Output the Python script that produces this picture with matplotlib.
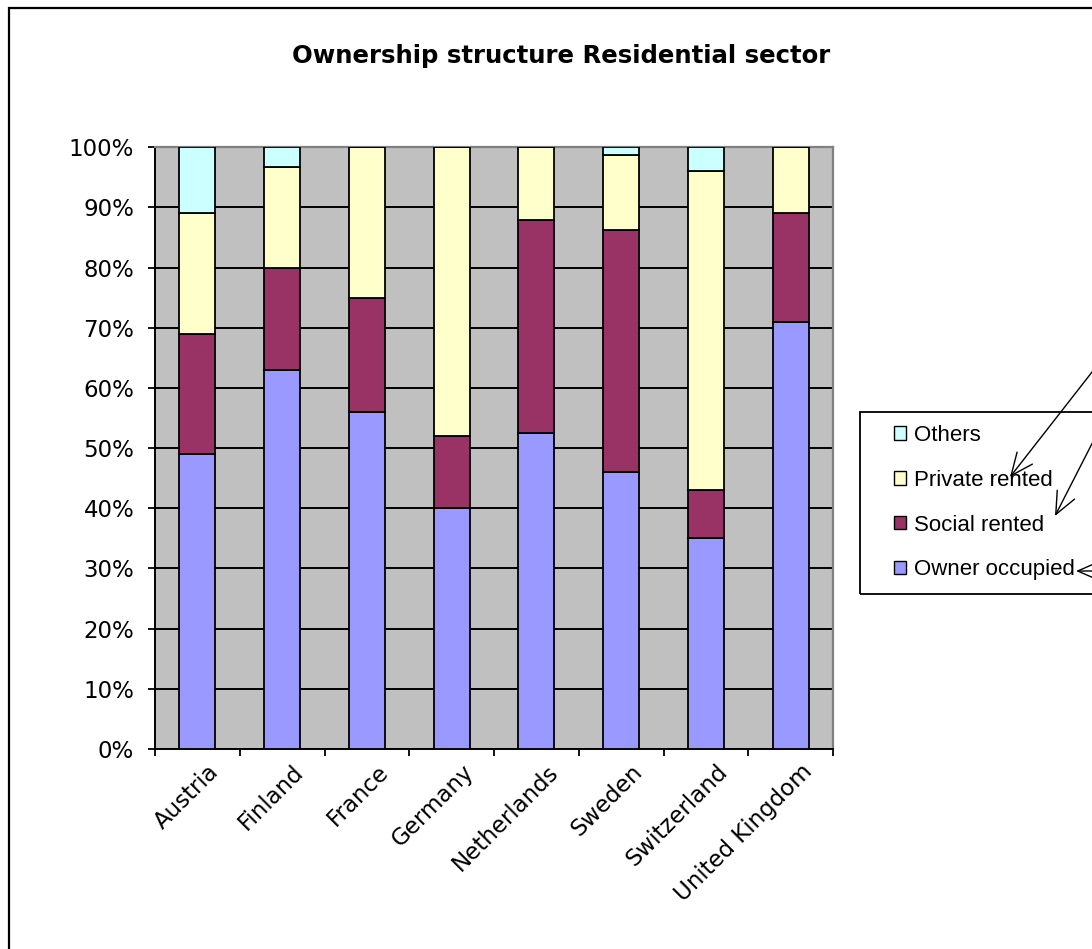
import matplotlib
matplotlib.use("Agg")
import matplotlib.pyplot as plt
from matplotlib.patches import Rectangle, Patch, FancyArrowPatch
from matplotlib.ticker import FuncFormatter
import numpy as np

countries = ["Austria", "Finland", "France", "Germany", "Netherlands",
             "Sweden", "Switzerland", "United Kingdom"]
owner_occupied = [49, 63, 56, 40, 52.5, 46, 35, 71]
social_rented = [20, 17, 19, 12, 35.5, 40.3, 8, 18]
private_rented = [20, 16.7, 25, 48, 12, 12.4, 53, 11]
others = [11, 3.3, 0, 0, 0, 1.3, 4, 0]
series_names = ["Owner occupied", "Social rented", "Private rented", "Others"]
series_colors = ["#9999FF", "#993366", "#FFFFCC", "#CCFFFF"]
title = "Ownership structure Residential sector"

W, H = 1092, 949
fig = plt.figure(figsize=(W / 100, H / 100), dpi=100)
fig.patch.set_facecolor("white")


def fx(x):
    return x / W


def fy(y):
    return 1 - y / H


ax_l, ax_r, ax_t, ax_b = 155, 833, 147.3, 749
ax = fig.add_axes([fx(ax_l), fy(ax_b), (ax_r - ax_l) / W, (ax_b - ax_t) / H])
ax.set_facecolor("#C0C0C0")

x = np.arange(len(countries))
bottom = np.zeros(len(countries))
series = [owner_occupied, social_rented, private_rented, others]
for vals, name, col in zip(series, series_names, series_colors):
    v = np.array(vals, dtype=float)
    ax.bar(x, v, 0.425, bottom=bottom, color=col, edgecolor="black",
           linewidth=1.3, zorder=3, label=name)
    bottom += v

ax.set_xlim(-0.5, len(countries) - 0.5)
ax.set_ylim(0, 100)
ax.set_yticks(np.arange(0, 101, 10))
ax.yaxis.set_major_formatter(FuncFormatter(lambda v, p: f"{v:.0f}%"))
ax.grid(axis="y", color="black", linewidth=1.4, zorder=1)
ax.set_axisbelow(True)

ax.set_xticks(np.arange(-0.5, len(countries), 1.0))
ax.set_xticklabels([])
ax.set_xticks(x + 0.12, minor=True)
ax.set_xticklabels(countries, minor=True, rotation=45, ha="right", va="top",
                   rotation_mode="anchor", fontsize=16.5, family="DejaVu Sans")
ax.tick_params(axis="x", which="minor", length=0, pad=8)
ax.tick_params(axis="x", which="major", direction="out", length=5, width=1.3, color="black")
ax.tick_params(axis="y", direction="out", length=5, width=1.3, color="black",
               labelsize=16.5, pad=10)
for lab in ax.get_yticklabels():
    lab.set_family("DejaVu Sans")

for s in ["left", "bottom"]:
    ax.spines[s].set_color("black")
    ax.spines[s].set_linewidth(1.4)
for s in ["top", "right"]:
    ax.spines[s].set_color("#808080")
    ax.spines[s].set_linewidth(1.6)

fig.text(fx(561), fy(56), title, ha="center", va="center", fontsize=17.6,
         fontweight="bold", family="DejaVu Sans")

# outer chart border
fig.patches.append(Rectangle((fx(9), fy(960)), 1.2, fy(8) - fy(960), transform=fig.transFigure,
                             fill=False, edgecolor="black", linewidth=1.6, clip_on=False))

# legend frame
fig.patches.append(Rectangle((fx(860), fy(594)), fx(1100) - fx(860), fy(412) - fy(594),
                             transform=fig.transFigure, fill=False, edgecolor="black",
                             linewidth=1.3))
handles = [Patch(facecolor=c, edgecolor="black", linewidth=1.0, label=n)
           for n, c in zip(series_names, series_colors)][::-1]
leg = fig.legend(handles=handles, loc="upper left", bbox_to_anchor=(fx(894), fy(425)),
                 bbox_transform=fig.transFigure, frameon=False,
                 prop={"family": "Liberation Sans", "size": 16},
                 handlelength=0.55, handleheight=0.55, handletextpad=0.36,
                 labelspacing=1.07, borderpad=0, borderaxespad=0)

# annotation arrows
arrow_kw = dict(arrowstyle="->,head_length=0.8,head_width=0.35", color="black",
                linewidth=1.0, transform=fig.transFigure, mutation_scale=20,
                shrinkA=0, shrinkB=0)
fig.patches.append(FancyArrowPatch((fx(1103), fy(358)), (fx(1010), fy(477)), **arrow_kw))
fig.patches.append(FancyArrowPatch((fx(1100), fy(428)), (fx(1055), fy(516)), **arrow_kw))
fig.patches.append(FancyArrowPatch((fx(1100), fy(571)), (fx(1076), fy(571)), **arrow_kw))

fig.savefig("out.png", dpi=100)
